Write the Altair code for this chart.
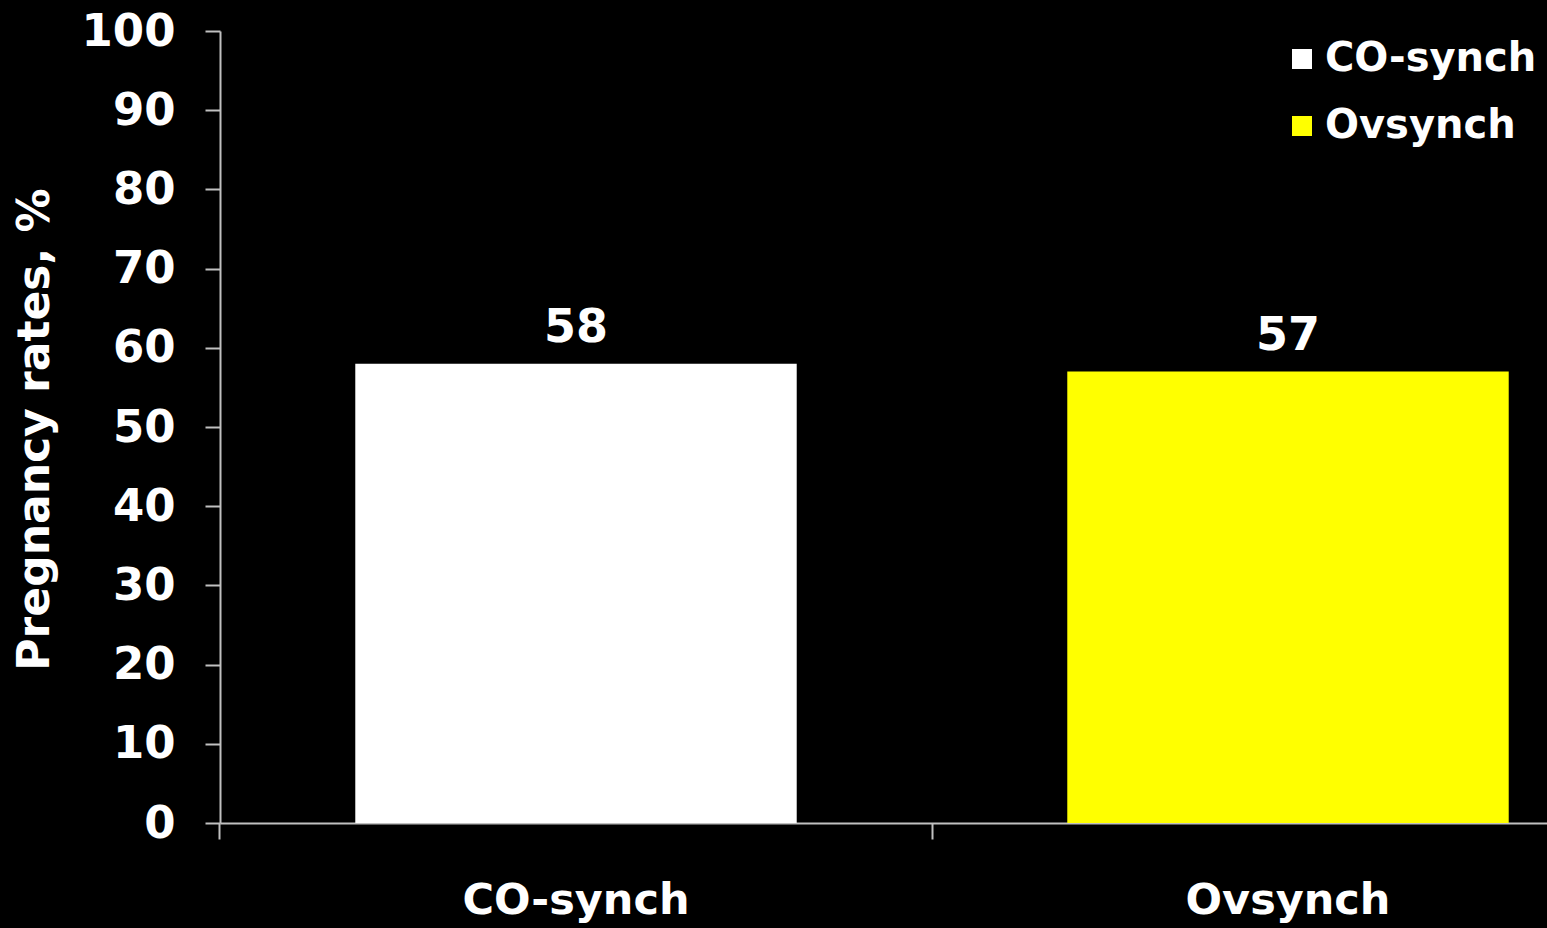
import altair as alt
import pandas as pd

# Pregnancy rates (%) after the two synchronisation protocols
groups = ["CO-synch", "Ovsynch"]
rates = [58, 57]
bar_colors = ["#ffffff", "#ffff00"]
y_ticks = [0, 10, 20, 30, 40, 50, 60, 70, 80, 90, 100]

df = pd.DataFrame({"group": groups, "rate": rates})

FONT = "DejaVu Sans"
AXIS_GREY = "#c0c0c0"

# Band layout: each category owns a 712 px step, the bar fills 62 % of it
PAD_INNER = 0.38
PAD_OUTER = PAD_INNER / 2
# Ticks sit on the step boundaries, i.e. half the inner gap before each bar
TICK_POS = -(PAD_OUTER / (1 - PAD_INNER))

x_enc = alt.X(
    "group:N",
    sort=groups,
    scale=alt.Scale(range=[0, 1424], paddingInner=PAD_INNER, paddingOuter=PAD_OUTER),
    axis=alt.Axis(
        title=None,
        bandPosition=TICK_POS,
        tickSize=16,
        labelAngle=0,
        labelAlign="center",
        labelPadding=40,
        labelBaseline="top",
        labelFontSize=43,
        labelFont=FONT,
        labelFontWeight="bold",
        labelColor="#ffffff",
        labelLimit=600,
        domainColor=AXIS_GREY,
        tickColor=AXIS_GREY,
        domainWidth=2,
        tickWidth=2,
        grid=False,
    ),
)

y_enc = alt.Y(
    "rate:Q",
    scale=alt.Scale(domain=[0, 100], nice=False),
    axis=alt.Axis(
        title="Pregnancy rates, %",
        values=y_ticks,
        tickSize=15,
        labelPadding=30,
        labelFontSize=45,
        labelFont=FONT,
        labelFontWeight="bold",
        labelColor="#ffffff",
        titleFont=FONT,
        titleFontSize=44,
        titleFontWeight="bold",
        titleColor="#ffffff",
        titleAngle=270,
        titleAlign="center",
        titleBaseline="middle",
        titleX=-185,
        titleY=398,
        domainColor=AXIS_GREY,
        tickColor=AXIS_GREY,
        domainWidth=2,
        tickWidth=2,
        grid=False,
    ),
)

bars = alt.Chart(df).mark_bar().encode(
    x=x_enc,
    y=y_enc,
    color=alt.Color(
        "group:N",
        sort=groups,
        scale=alt.Scale(domain=groups, range=bar_colors),
        legend=alt.Legend(
            title=None,
            orient="none",
            legendX=1062,
            legendY=8,
            symbolType="square",
            symbolSize=400,
            symbolStrokeWidth=0,
            labelFont=FONT,
            labelFontSize=40,
            labelFontWeight="bold",
            labelColor="#ffffff",
            labelLimit=600,
            labelOffset=3,
            rowPadding=27,
            padding=0,
        ),
    ),
)

values = alt.Chart(df).mark_text(
    font=FONT,
    fontSize=46,
    fontWeight="bold",
    color="#ffffff",
    baseline="alphabetic",
    dy=-22,
).encode(
    x=alt.X("group:N", sort=groups),
    y=alt.Y("rate:Q"),
    text=alt.Text("rate:Q"),
)

chart = (
    alt.layer(bars, values)
    .properties(
        width=1327,
        height=792,
        background="#000000",
        autosize=alt.AutoSizeParams(type="none"),
        padding={"left": 220, "top": 31, "right": 0, "bottom": 105},
    )
    .configure_view(strokeWidth=0)
)

chart.save("out.html", embed_options={"renderer": "svg", "actions": False})
